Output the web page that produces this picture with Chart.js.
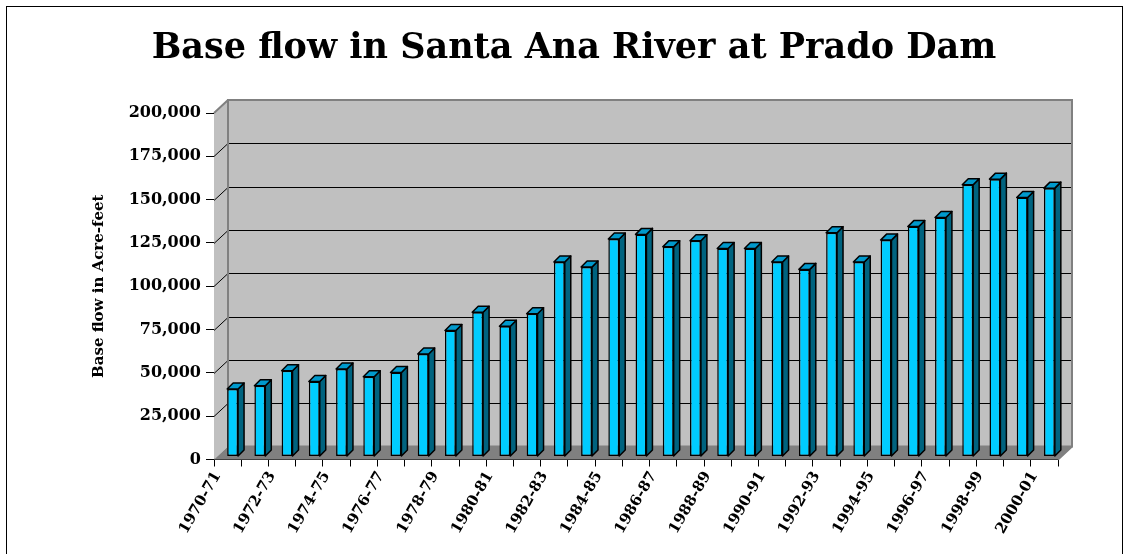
<!DOCTYPE html>
<html lang="en">
<head>
<meta charset="UTF-8">
<title>Base flow in Santa Ana River at Prado Dam</title>
<style>
    body { margin: 0; background: #fff; overflow: hidden; }
    #frame { position: absolute; left: 6px; top: 6px; width: 1117px; height: 600px; border: 1px solid #000; box-sizing: border-box; }
    #myChart { position: absolute; left: 0; top: 0; }
</style>
</head>
<body>
<div id="frame"></div>
<canvas id="myChart" width="1129" height="554"></canvas>

<script src="https://cdn.jsdelivr.net/npm/chart.js@4.4.1/dist/chart.umd.min.js"></script>
<script>
// water years
const seasons = [
    '1970-71', '1971-72', '1972-73', '1973-74', '1974-75', '1975-76', '1976-77', '1977-78',
    '1978-79', '1979-80', '1980-81', '1981-82', '1982-83', '1983-84', '1984-85', '1985-86',
    '1986-87', '1987-88', '1988-89', '1989-90', '1990-91', '1991-92', '1992-93', '1993-94',
    '1994-95', '1995-96', '1996-97', '1997-98', '1998-99', '1999-00', '2000-01'
];

// base flow, acre-feet
const baseFlow = [
    39000, 40800, 49500, 43300, 50500, 46000, 48500, 59200,
    72700, 83300, 75200, 82400, 112300, 109400, 125500, 128200,
    121000, 124500, 120100, 120100, 112300, 108000, 129200, 112300,
    124900, 132700, 138000, 156800, 160100, 149500, 154900
];

const yTickValues = [0, 25000, 50000, 75000, 100000, 125000, 150000, 175000, 200000];

const serif = "'DejaVu Serif', 'Liberation Serif', serif";

// depth of the box and of each bar
const DX = 14, DY = 13;
const BDX = 6, BDY = 6;

const box3d = {
    id: 'box3d',
    beforeDatasetsDraw(chart) {
        const ctx = chart.ctx;
        const a = chart.chartArea;
        const y = chart.scales.y;
        ctx.save();
        // back wall + side wall
        ctx.fillStyle = '#c0c0c0';
        ctx.fillRect(a.left + DX, a.top - DY, a.right - a.left, a.bottom - a.top);
        ctx.beginPath();
        ctx.moveTo(a.left, a.top);
        ctx.lineTo(a.left + DX, a.top - DY);
        ctx.lineTo(a.left + DX, a.bottom - DY);
        ctx.lineTo(a.left, a.bottom);
        ctx.closePath();
        ctx.fill();
        // floor
        ctx.fillStyle = '#808080';
        ctx.beginPath();
        ctx.moveTo(a.left, a.bottom);
        ctx.lineTo(a.left + DX, a.bottom - DY);
        ctx.lineTo(a.right + DX, a.bottom - DY);
        ctx.lineTo(a.right, a.bottom);
        ctx.closePath();
        ctx.fill();
        // grid lines
        ctx.strokeStyle = '#000';
        ctx.lineWidth = 1;
        yTickValues.forEach(v => {
            if (v === 0 || v === yTickValues[yTickValues.length - 1]) return;
            const py = Math.round(y.getPixelForValue(v)) + 0.5;
            ctx.beginPath();
            ctx.moveTo(a.left, py);
            ctx.lineTo(a.left + DX, py - DY);
            ctx.lineTo(a.right + DX, py - DY);
            ctx.stroke();
        });
        // gray edges
        ctx.strokeStyle = '#808080';
        ctx.lineWidth = 2;
        ctx.strokeRect(a.left + DX, a.top - DY, a.right - a.left, a.bottom - a.top);
        ctx.beginPath();
        ctx.moveTo(a.left, a.top);
        ctx.lineTo(a.left + DX, a.top - DY);
        ctx.moveTo(a.right, a.bottom);
        ctx.lineTo(a.right + DX, a.bottom - DY);
        ctx.stroke();
        ctx.restore();
        // bars sit a little behind the front plane
        ctx.save();
        ctx.translate(5, -3);
    },
    afterDatasetsDraw(chart) {
        const ctx = chart.ctx;
        const meta = chart.getDatasetMeta(0);
        ctx.lineWidth = 1.5;
        ctx.strokeStyle = '#000';
        ctx.lineJoin = 'round';
        meta.data.forEach(bar => {
            const p = bar.getProps(['x', 'y', 'base', 'width'], true);
            const l = p.x - p.width / 2, r = p.x + p.width / 2;
            // side
            ctx.fillStyle = '#00637f';
            ctx.beginPath();
            ctx.moveTo(r, p.y);
            ctx.lineTo(r + BDX, p.y - BDY);
            ctx.lineTo(r + BDX, p.base - BDY);
            ctx.lineTo(r, p.base);
            ctx.closePath();
            ctx.fill();
            ctx.stroke();
            // top
            ctx.fillStyle = '#0099cc';
            ctx.beginPath();
            ctx.moveTo(l, p.y);
            ctx.lineTo(l + BDX, p.y - BDY);
            ctx.lineTo(r + BDX, p.y - BDY);
            ctx.lineTo(r, p.y);
            ctx.closePath();
            ctx.fill();
            ctx.stroke();
        });
        ctx.restore();
    }
};

new Chart(document.getElementById('myChart'), {
    type: 'bar',
    data: {
        labels: seasons,
        datasets: [{
            label: 'Base flow',
            data: baseFlow,
            backgroundColor: '#00ccff',
            borderColor: '#000',
            borderWidth: 1.5,
            borderSkipped: false,
            categoryPercentage: 1,
            barPercentage: 0.4
        }]
    },
    options: {
        responsive: false,
        animation: false,
        layout: { padding: { top: 10, left: 90, right: 71, bottom: 0 } },
        plugins: {
            legend: { display: false },
            tooltip: { enabled: false },
            title: {
                display: true,
                text: 'Base flow in Santa Ana River at Prado Dam',
                color: '#000',
                font: { family: serif, size: 35, weight: 'bold' },
                padding: { top: 18, bottom: 43 }
            }
        },
        scales: {
            x: {
                grid: { offset: true, drawOnChartArea: false, tickLength: 7, color: '#000' },
                border: { display: true, color: '#000', width: 1 },
                ticks: {
                    autoSkip: false,
                    minRotation: 60,
                    maxRotation: 60,
                    labelOffset: -10,
                    padding: 2,
                    color: '#000',
                    font: { family: serif, size: 15, weight: 'bold' },
                    callback: (v, i) => i % 2 === 0 ? seasons[i] : ''
                },
                afterFit: s => { s.height = 94.5; }
            },
            y: {
                min: 0,
                max: 200000,
                afterBuildTicks: s => { s.ticks = yTickValues.map(v => ({ value: v })); },
                grid: { drawOnChartArea: false, tickLength: 8, color: '#000' },
                border: { display: true, color: '#000', width: 1 },
                ticks: {
                    padding: 5,
                    color: '#000',
                    font: { family: serif, size: 16, weight: 'bold' },
                    callback: v => v.toLocaleString('en-US')
                },
                title: {
                    display: true,
                    text: 'Base flow in Acre-feet',
                    color: '#000',
                    padding: 0,
                    font: { family: serif, size: 15, weight: 'bold' }
                },
                afterFit: s => { s.width = 124; }
            }
        }
    },
    plugins: [box3d]
});
</script>
</body>
</html>
